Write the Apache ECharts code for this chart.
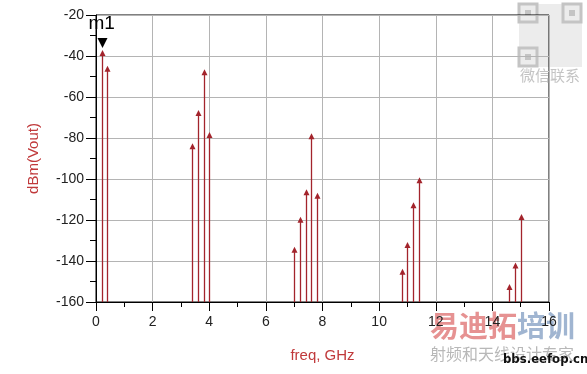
<!DOCTYPE html>
<html><head><meta charset="utf-8">
<script src="https://cdn.jsdelivr.net/npm/echarts@6/dist/echarts.min.js"></script>
<style>html,body{margin:0;padding:0;background:#fff}#c{width:587px;height:374px}</style>
</head><body><div id="c"></div>
<script>
const freqs = [0.2, 0.4, 3.4, 3.6, 3.8, 4.0, 7.0, 7.2, 7.4, 7.6, 7.8, 10.8, 11.0, 11.2, 11.4, 14.6, 14.8, 15.0];
const dbm   = [-37.1, -44.7, -82.6, -66.3, -46.5, -77.1, -133, -118.4, -105, -77.7, -106.7, -143.8, -130.7, -111.4, -99.2, -151.2, -140.7, -117.1];
const xTicks = [0, 2, 4, 6, 8, 10, 12, 14, 16];
const yTicks = [-20, -40, -60, -80, -100, -120, -140, -160];
const markerName = 'm1';
const markerIndex = 0;

const stemColor = '#a3242c';
const titleColor = '#c0393b';
const font = 'Liberation Sans, Arial, sans-serif';
const cjk = 'Noto Sans CJK SC';

const chart = echarts.init(document.getElementById('c'), null, {renderer: 'canvas'});
const data = freqs.map((f, i) => [f, dbm[i]]);

// faint QR-like watermark blocks (decorative)
const qr = [];
qr.push({type: 'rect', shape: {x: 519, y: 4, width: 63, height: 63}, style: {fill: 'rgba(200,200,200,0.35)'}, z: -1});
[[519, 4], [563, 4], [519, 48]].forEach(p => {
  qr.push({type: 'rect', shape: {x: p[0], y: p[1], width: 18, height: 18}, style: {fill: 'none', stroke: '#c4c4c4', lineWidth: 3}, z: -1});
  qr.push({type: 'rect', shape: {x: p[0] + 6, y: p[1] + 6, width: 6, height: 6}, style: {fill: '#c4c4c4'}, z: -1});
});

chart.setOption({
  animation: false,
  grid: {left: 96, right: 38, top: 15, bottom: 72, show: true, borderColor: '#000', borderWidth: 1, backgroundColor: 'transparent'},
  xAxis: {
    type: 'value', min: 0, max: 16, interval: 2,
    name: 'freq, GHz', nameLocation: 'middle', nameGap: 46,
    nameTextStyle: {color: titleColor, fontSize: 15, fontFamily: font},
    axisLine: {show: true, lineStyle: {color: '#000', width: 1}},
    axisTick: {show: true, length: 9, lineStyle: {color: '#000'}},
    minorTick: {show: true, splitNumber: 2, length: 5, lineStyle: {color: '#000'}},
    axisLabel: {color: '#222', fontSize: 14, fontFamily: font, margin: 13,
      formatter: v => xTicks.includes(v) ? String(v) : ''},
    splitLine: {show: true, lineStyle: {color: '#b4b4b4', width: 1}}
  },
  yAxis: {
    type: 'value', min: -160, max: -20, interval: 20,
    name: 'dBm(Vout)', nameLocation: 'middle', nameGap: 55,
    nameTextStyle: {color: titleColor, fontSize: 15, fontFamily: font},
    axisLine: {show: true, lineStyle: {color: '#000', width: 1}},
    axisTick: {show: true, length: 10, lineStyle: {color: '#000'}},
    minorTick: {show: true, splitNumber: 2, length: 6, lineStyle: {color: '#000'}},
    axisLabel: {color: '#222', fontSize: 14, fontFamily: font, margin: 12,
      formatter: v => yTicks.includes(v) ? String(v) : ''},
    splitLine: {show: true, lineStyle: {color: '#b4b4b4', width: 1}}
  },
  series: [{
    type: 'custom',
    data: data,
    clip: false,
    renderItem: function (params, api) {
      const x = api.value(0), y = api.value(1);
      const top = api.coord([x, y]);
      const bot = api.coord([x, -160]);
      const cx = Math.round(top[0]) + 0.5;
      const children = [
        {type: 'line', shape: {x1: cx, y1: bot[1], x2: cx, y2: top[1] + 3},
         style: {stroke: stemColor, lineWidth: 1.3}},
        {type: 'polygon', shape: {points: [[cx, top[1]], [cx - 3, top[1] + 6], [cx + 3, top[1] + 6]]},
         style: {fill: stemColor}}
      ];
      if (params.dataIndex === markerIndex) {
        children.push({type: 'polygon', shape: {points: [[cx - 5, top[1] - 12], [cx + 5, top[1] - 12], [cx, top[1] - 2]]},
          style: {fill: '#000'}});
        children.push({type: 'text', style: {text: markerName, x: cx - 14, y: top[1] - 36, fill: '#000',
          fontSize: 19, fontFamily: font}});
      }
      return {type: 'group', children: children};
    }
  }],
  graphic: qr.concat([
    {type: 'text', left: 520, top: 68, style: {text: '微信联系', fill: '#c4c4c4', fontSize: 15, fontFamily: cjk}},
    {type: 'text', left: 430, top: 311, style: {text: '易迪拓', fill: 'rgba(220,100,100,0.7)', fontSize: 29, fontWeight: 'bold', fontFamily: cjk}},
    {type: 'text', left: 517, top: 311, style: {text: '培训', fill: 'rgba(120,150,190,0.7)', fontSize: 29, fontWeight: 'bold', fontFamily: cjk}},
    {type: 'text', left: 430, top: 346, style: {text: '射频和天线设计专家', fill: '#b8b8b8', fontSize: 16, fontFamily: cjk}},
    {type: 'text', left: 503, top: 353, style: {text: 'bbs.eefop.cn', fill: '#111', fontSize: 13, fontWeight: 'bold', fontFamily: 'DejaVu Sans Condensed, Liberation Sans Narrow, sans-serif'}}
  ])
});
</script>
</body></html>
